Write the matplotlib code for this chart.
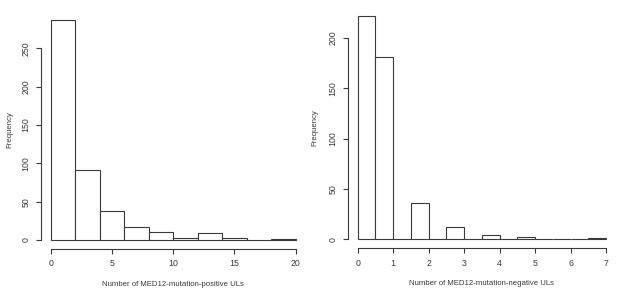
import numpy as np
import matplotlib.pyplot as plt

plt.rcParams['font.family'] = ['Liberation Sans', 'DejaVu Sans']

# histogram of MED12-mutation-positive ULs (bin width 2)
pos_edges = [0, 2, 4, 6, 8, 10, 12, 14, 16, 18, 20]
pos_counts = [287, 91, 38, 17, 10, 2, 9, 2, 0, 1]
pos_xticks = [0, 5, 10, 15, 20]
pos_yticks = [0, 50, 100, 150, 200, 250]

# histogram of MED12-mutation-negative ULs (bin width 0.5)
neg_edges = [0, 0.5, 1, 1.5, 2, 2.5, 3, 3.5, 4, 4.5, 5, 5.5, 6, 6.5, 7]
neg_counts = [222, 181, 0, 36, 0, 12, 0, 4, 0, 2, 0, 0, 0, 1]
neg_xticks = [0, 1, 2, 3, 4, 5, 6, 7]
neg_yticks = [0, 50, 100, 150, 200]

W, H = 617, 291
fig = plt.figure(figsize=(W / 100, H / 100), dpi=100)
ink = '#3a3a3a'


def r_hist(rect, edges, counts, xticks, yticks, xlabel, ypad):
    # rect in pixels: left, top, right, bottom of plot region
    l, t, r, b = rect
    ax = fig.add_axes([l / W, 1 - b / H, (r - l) / W, (b - t) / H])
    edges = np.asarray(edges, dtype=float)
    ax.bar(edges[:-1], counts, width=np.diff(edges), align='edge',
           facecolor='white', edgecolor=ink, linewidth=0.8)
    # R style 4% padding
    xr = edges[-1] - edges[0]
    ax.set_xlim(edges[0] - 0.04 * xr, edges[-1] + 0.04 * xr)
    yr = max(counts)
    ax.set_ylim(-0.04 * yr, yr * 1.04)
    for s in ['top', 'right']:
        ax.spines[s].set_visible(False)
    ax.spines['left'].set_bounds(yticks[0], yticks[-1])
    ax.spines['bottom'].set_bounds(xticks[0], xticks[-1])
    for s in ['left', 'bottom']:
        ax.spines[s].set_color(ink)
        ax.spines[s].set_linewidth(0.8)
    ax.set_xticks(xticks)
    ax.set_yticks(yticks)
    ax.tick_params(colors=ink, labelsize=6.3, length=3.5, width=0.8, pad=4)
    for lab in ax.get_yticklabels():
        lab.set_rotation(90)
        lab.set_va('center')
    ax.set_xlabel(xlabel, fontsize=5.6, color=ink, labelpad=9)
    ax.set_ylabel('Frequency', fontsize=5.6, color=ink, labelpad=ypad)
    return ax


r_hist((40.9, 11, 305.5, 248.8), pos_edges, pos_counts, pos_xticks, pos_yticks,
       'Number of MED12-mutation-positive ULs', 6)
r_hist((347.8, 6.6, 615.9, 248.3), neg_edges, neg_counts, neg_xticks, neg_yticks,
       'Number of MED12-mutation-negative ULs', 7)

fig.savefig('out.png', dpi=100, facecolor='white')
